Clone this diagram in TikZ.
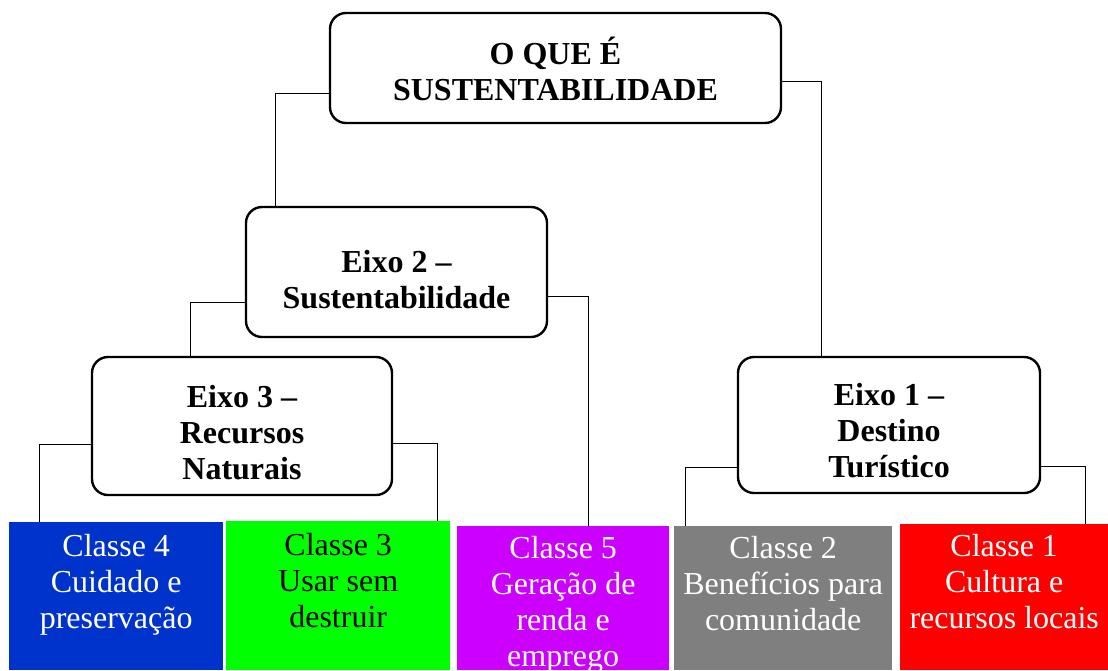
\documentclass[tikz,border=0pt]{standalone}
\usepackage{fontspec}
\setmainfont{Liberation Serif}
\definecolor{cblue}{HTML}{0033CC}
\definecolor{cgreen}{HTML}{00FF00}
\definecolor{cpurple}{HTML}{CC00FF}
\definecolor{cgrey}{HTML}{7F7F7F}
\definecolor{cred}{HTML}{FF0000}
\tikzset{
  eixo/.style={draw, line width=2.4pt, rounded corners=16pt, inner sep=0pt},
  eixotext/.style={inner sep=0pt, align=center, font=\fontsize{32}{36}\selectfont\bfseries},
  classbox/.style={anchor=north west, inner sep=0pt},
  classtext/.style={anchor=north, inner sep=0pt, align=center, font=\fontsize{32}{36}\selectfont},
  conn/.style={draw, line width=1pt}
}
\begin{document}
\begin{tikzpicture}[x=1pt, y=-1pt]
\useasboundingbox[fill=white] (0,0) rectangle (1108,670);
% rounded boxes
\node[eixo, minimum width=451pt, minimum height=110pt] (top) at (555.5,68) {};
\node[eixo, minimum width=301pt, minimum height=130pt] (e2) at (396.5,272) {};
\node[eixo, minimum width=300pt, minimum height=138pt] (e3) at (242,426) {};
\node[eixo, minimum width=302pt, minimum height=136pt] (e1) at (889,425) {};
\node[eixotext] (topt) at ([yshift=-1pt]top.center) {O QUE É\\SUSTENTABILIDADE};
\node[eixotext] (e2t) at ([yshift=-8pt]e2.center) {Eixo 2 –\\Sustentabilidade};
\node[eixotext] (e3t) at ([yshift=-7pt]e3.center) {Eixo 3 –\\Recursos\\Naturais};
\node[eixotext] (e1t) at ([yshift=-6pt]e1.center) {Eixo 1 –\\Destino\\Turístico};
% class boxes
\node[classbox, fill=cblue, minimum width=214pt, minimum height=148pt] (c4) at (9,522) {};
\node[classbox, fill=cgreen, minimum width=224pt, minimum height=149pt] (c3) at (226,521) {};
\node[classbox, fill=cpurple, minimum width=212pt, minimum height=144pt] (c5) at (457,526) {};
\node[classbox, fill=cgrey, minimum width=218pt, minimum height=144pt] (c2) at (674,526) {};
\node[classbox, fill=cred, minimum width=208pt, minimum height=146pt] (c1) at (900,524) {};
% class texts
\node[classtext, text=white] (c4t) at ([yshift=-12pt]c4.north) {Classe 4\\Cuidado e\\preservação};
\node[classtext, text=black] (c3t) at ([yshift=-12pt]c3.north) {Classe 3\\Usar sem\\destruir};
\node[classtext, text=white] (c5t) at ([yshift=-10pt]c5.north) {Classe 5\\Geração de\\renda e\\emprego};
\node[classtext, text=white] (c2t) at ([yshift=-10pt]c2.north) {Classe 2\\Benefícios para\\comunidade};
\node[classtext, text=white] (c1t) at ([yshift=-10pt]c1.north) {Classe 1\\Cultura e\\recursos locais};
% connectors
\draw[conn] ([yshift=-25pt]top.west) -| ([xshift=31pt]e2.north west);
\draw[conn] ([yshift=-13pt]top.east) -| ([xshift=85pt]e1.north west);
\draw[conn] ([yshift=-30pt]e2.west) -| ([xshift=100pt]e3.north west);
\draw[conn] ([yshift=-24pt]e2.east) -| ([xshift=131pt]c5.north west);
\draw[conn] ([yshift=-18pt]e3.west) -| ([xshift=30pt]c4.north west);
\draw[conn] ([yshift=-17pt]e3.east) -| ([xshift=211pt]c3.north west);
\draw[conn] ([yshift=-42pt]e1.west) -| ([xshift=11pt]c2.north west);
\draw[conn] ([yshift=-41pt]e1.east) -| ([xshift=185pt]c1.north west);
\end{tikzpicture}
\end{document}
